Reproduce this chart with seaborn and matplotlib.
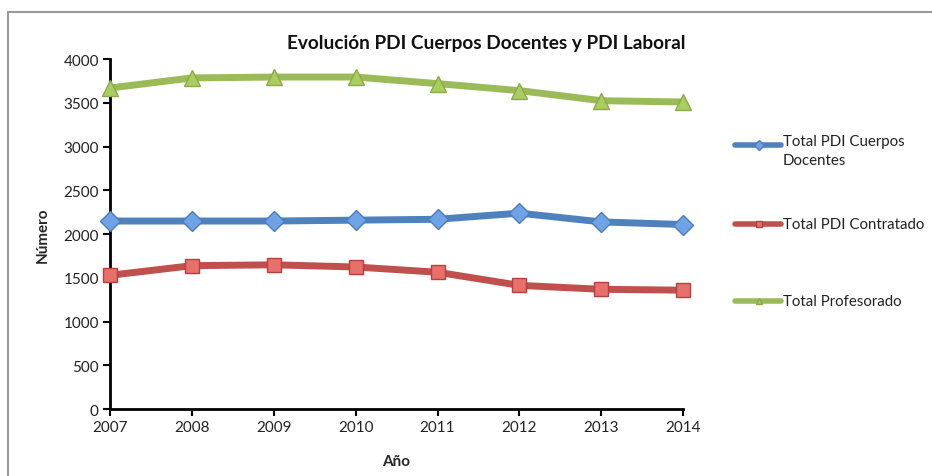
import matplotlib
matplotlib.use("Agg")
import matplotlib.pyplot as plt
from matplotlib.lines import Line2D
import seaborn as sns
import pandas as pd

years = [2007, 2008, 2009, 2010, 2011, 2012, 2013, 2014]
cuerpos = [2150, 2150, 2150, 2160, 2170, 2240, 2140, 2110]
contratado = [1530, 1640, 1650, 1625, 1565, 1415, 1370, 1360]
profesorado = [3670, 3785, 3795, 3795, 3720, 3640, 3525, 3510]
labels = ["Total PDI Cuerpos\nDocentes", "Total PDI Contratado", "Total Profesorado"]
yticks = [0, 500, 1000, 1500, 2000, 2500, 3000, 3500, 4000]

sns.set_theme(style="white")
plt.rcParams['font.family'] = ['Lato', 'DejaVu Sans']

W, H = 932, 477
fig = plt.figure(figsize=(W / 100, H / 100), dpi=100)
ax = fig.add_axes([0.118, 0.140, 0.615, 0.734])

series = [
    (cuerpos, "#4F81BD", "D", "#6fa3e6", "#4a7cc0", 10),
    (contratado, "#C0504D", "s", "#e8706c", "#b8403c", 10),
    (profesorado, "#9BBB59", "^", "#aacd62", "#8aab48", 12),
]

for (vals, col, mk, mfc, mec, ms), lab in zip(series, labels):
    df = pd.DataFrame({"Año": years, "Número": vals})
    sns.lineplot(data=df, x="Año", y="Número", ax=ax, color=col, linewidth=5,
                 marker=mk, markersize=ms, markerfacecolor=mfc,
                 markeredgecolor=mec, markeredgewidth=1, clip_on=False,
                 zorder=3, legend=False)

ax.set_xlim(2007, 2014)
ax.set_ylim(0, 4000)
ax.set_yticks(yticks)
ax.set_xticks(years)
ax.set_xticklabels([str(y) for y in years], fontsize=11,
                   family=['Liberation Sans Narrow', 'Lato', 'DejaVu Sans'])
ax.set_yticklabels([str(v) for v in yticks], fontsize=11)
ax.tick_params(axis='both', direction='out', length=5, width=1.5,
               color='black', labelcolor='#222222', left=True, bottom=True, pad=3)
for s in ['top', 'right']:
    ax.spines[s].set_visible(False)
for s in ['left', 'bottom']:
    ax.spines[s].set_color('black')
    ax.spines[s].set_linewidth(2)
ax.set_xlabel("Año", fontsize=11, fontweight='bold', labelpad=14)
ax.set_ylabel("Número", fontsize=11, fontweight='bold', labelpad=10)
ax.grid(False)

fig.text(0.522, 0.908, "Evolución PDI Cuerpos Docentes y PDI Laboral",
         ha='center', va='center', fontsize=13.7, fontweight='bold', color='#111111')

# legend (manual, positioned as in the reference)
leg_y = [146, 225, 302]
for (vals, col, mk, mfc, mec, ms), lab, py in zip(series, labels, leg_y):
    yf = 1 - py / H
    fig.add_artist(Line2D([735 / W, 781 / W], [yf, yf], color=col, linewidth=4,
                          solid_capstyle='round', transform=fig.transFigure))
    fig.add_artist(Line2D([758.5 / W], [yf], color=col, marker=mk, markersize=5,
                          markerfacecolor=mfc, markeredgecolor=mec, linewidth=0,
                          transform=fig.transFigure))
    if "\n" in lab:
        fig.text(783 / W, 1 - (py - 11) / H, lab, ha='left', va='top',
                 fontsize=10.8, color='#222222', linespacing=1.5)
    else:
        fig.text(783 / W, yf, lab, ha='left', va='center',
                 fontsize=10.8, color='#222222')

# outer frame (top and left edges)
fig.add_artist(Line2D([8 / W, 1], [1 - 13 / H, 1 - 13 / H], color='#999999', linewidth=1.5,
                      transform=fig.transFigure))
fig.add_artist(Line2D([8 / W, 8 / W], [0, 1 - 13 / H], color='#999999', linewidth=1.5,
                      transform=fig.transFigure))

fig.savefig("out.png", dpi=100, facecolor='white')
